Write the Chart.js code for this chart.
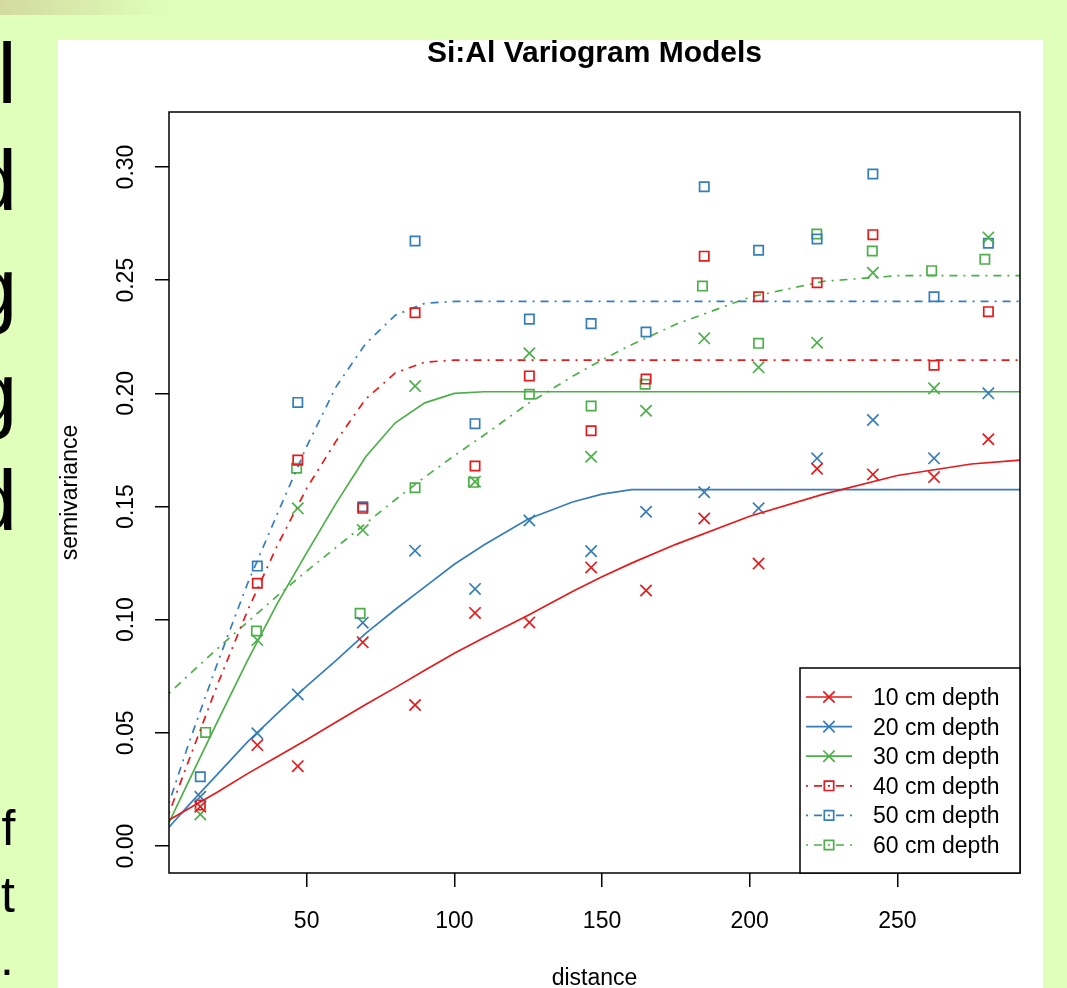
<!DOCTYPE html>
<html>
<head>
<meta charset="utf-8">
<script src="https://cdn.jsdelivr.net/npm/chart.js@4.4.0/dist/chart.umd.min.js"></script>
<style>
  body { margin: 0; width: 1067px; height: 988px; background: #dfffba; position: relative; overflow: hidden;
         font-family: "Liberation Sans", Arial, sans-serif; }
  #bar { position: absolute; left: 0; top: 0; width: 170px; height: 15px;
         background: linear-gradient(to right, #d3daa0, #dfffba); }
  .big { position: absolute; font-size: 86px; line-height: 1; color: #000; }
  .small { position: absolute; font-size: 50px; line-height: 1; color: #000; }
  #panel { position: absolute; left: 58px; top: 40px; width: 985px; height: 948px; background: #fff; }
</style>
</head>
<body>
<div id="bar"></div>
<div class="big" style="left:-2.6px; top:30px;">l</div>
<div class="big" style="left:-30.7px; top:137px;">d</div>
<div class="big" style="left:-30.6px; top:244px;">g</div>
<div class="big" style="left:-30.6px; top:349px;">g</div>
<div class="big" style="left:-30.7px; top:457px;">d</div>
<div class="small" style="left:1.5px; top:803px;">f</div>
<div class="small" style="left:1px; top:870px;">t</div>
<div class="small" style="left:0px; top:933px;">.</div>
<div id="panel"><canvas id="vgm" width="985" height="948"></canvas></div>

<script>
// tick marks / labels
const xTicks = [50, 100, 150, 200, 250];
const yTicks = [0, 0.05, 0.10, 0.15, 0.20, 0.25, 0.30];
const yTickLabels = ['0.00', '0.05', '0.10', '0.15', '0.20', '0.25', '0.30'];

const depthLabels = ['10 cm depth', '20 cm depth', '30 cm depth', '40 cm depth', '50 cm depth', '60 cm depth'];

// sample variogram (binned distances, semivariance)
const dist = [14, 33.3, 47, 69, 86.7, 107, 125.4, 146.3, 164.9, 184.6, 203, 222.8, 241.7, 262.4, 280.8];
const dist60 = [15.8, 33, 46.6, 68.1, 86.7, 106.5, 125.4, 146.3, 164.6, 184, 203, 222.7, 241.5, 261.6, 279.6];

const gamma10 = [0.0174, 0.0446, 0.0353, 0.0900, 0.0623, 0.1030, 0.0988, 0.1231, 0.1129, 0.1447, 0.1248, 0.1667, 0.1642, 0.1630, 0.1797];
const gamma20 = [0.0218, 0.0498, 0.0670, 0.0987, 0.1305, 0.1136, 0.1438, 0.1303, 0.1477, 0.1563, 0.1492, 0.1713, 0.1882, 0.1713, 0.2000];
const gamma30 = [0.0140, 0.0910, 0.1492, 0.1396, 0.2032, 0.1610, 0.2177, 0.1720, 0.1923, 0.2243, 0.2115, 0.2224, 0.2533, 0.2022, 0.2689];
const gamma40 = [0.0181, 0.1161, 0.1705, 0.1492, 0.2356, 0.1679, 0.2077, 0.1835, 0.2063, 0.2606, 0.2427, 0.2489, 0.2701, 0.2124, 0.2361];
const gamma50 = [0.0306, 0.1237, 0.1960, 0.1499, 0.2673, 0.1866, 0.2328, 0.2308, 0.2271, 0.2913, 0.2632, 0.2682, 0.2969, 0.2427, 0.2663];
const gamma60 = [0.0502, 0.0950, 0.1669, 0.1028, 0.1583, 0.1607, 0.1996, 0.1944, 0.2040, 0.2474, 0.2221, 0.2704, 0.2629, 0.2542, 0.2592];

// fitted model curves
const modelDist = [3.4, 10, 20, 30, 40, 50, 60, 70, 80, 90, 100, 110, 125, 140, 150, 160, 175, 200, 225, 250, 275, 291.5];
const model10 = [0.0115, 0.0165, 0.024, 0.032, 0.0395, 0.047, 0.0548, 0.0625, 0.070, 0.0777, 0.0852, 0.092, 0.102, 0.1125, 0.119, 0.125, 0.1333, 0.1457, 0.1555, 0.1637, 0.1688, 0.1705];
const model20 = [0.0083, 0.018, 0.032, 0.046, 0.0585, 0.0707, 0.082, 0.094, 0.1045, 0.1145, 0.1245, 0.133, 0.1445, 0.152, 0.1555, 0.1575, 0.1575, 0.1575, 0.1575, 0.1575, 0.1575, 0.1575];
const model30 = [0.0103, 0.0285, 0.0555, 0.082, 0.107, 0.1295, 0.1515, 0.172, 0.187, 0.1958, 0.2, 0.2007, 0.2007, 0.2007, 0.2007, 0.2007, 0.2007, 0.2007, 0.2007, 0.2007, 0.2007, 0.2007];
const model40 = [0.0145, 0.0375, 0.072, 0.104, 0.1326, 0.158, 0.179, 0.1975, 0.209, 0.2138, 0.2147, 0.2147, 0.2147, 0.2147, 0.2147, 0.2147, 0.2147, 0.2147, 0.2147, 0.2147, 0.2147, 0.2147];
const model50 = [0.019, 0.045, 0.0815, 0.116, 0.1465, 0.1765, 0.203, 0.222, 0.2345, 0.2398, 0.2406, 0.2406, 0.2406, 0.2406, 0.2406, 0.2406, 0.2406, 0.2406, 0.2406, 0.2406, 0.2406, 0.2406];
const model60 = [0.0675, 0.0755, 0.0875, 0.099, 0.1105, 0.1215, 0.132, 0.1425, 0.153, 0.163, 0.1725, 0.1815, 0.1955, 0.2075, 0.2148, 0.2215, 0.2305, 0.2425, 0.2495, 0.252, 0.252, 0.252];

const RED = '#E41A1C', BLUE = '#377EB8', GREEN = '#4DAF4A';
const DOTDASH = [2, 6, 8, 6];
const FONT = '"Liberation Sans", Arial, sans-serif';

const series = [
  { label: depthLabels[0], color: RED,   d: dist,   g: gamma10, m: model10, pch: 'crossRot', dash: [] },
  { label: depthLabels[1], color: BLUE,  d: dist,   g: gamma20, m: model20, pch: 'crossRot', dash: [] },
  { label: depthLabels[2], color: GREEN, d: dist,   g: gamma30, m: model30, pch: 'crossRot', dash: [] },
  { label: depthLabels[3], color: RED,   d: dist,   g: gamma40, m: model40, pch: 'rect', dash: DOTDASH },
  { label: depthLabels[4], color: BLUE,  d: dist,   g: gamma50, m: model50, pch: 'rect', dash: DOTDASH },
  { label: depthLabels[5], color: GREEN, d: dist60, g: gamma60, m: model60, pch: 'rect', dash: DOTDASH }
];

const datasets = [];
series.forEach(s => {
  datasets.push({
    label: s.label + ' model',
    data: modelDist.map((d, i) => ({ x: d, y: s.m[i] })),
    showLine: true,
    pointRadius: 0,
    borderColor: s.color,
    borderWidth: 1.7,
    borderDash: s.dash,
    fill: false,
    tension: 0
  });
  datasets.push({
    label: s.label,
    data: s.d.map((d, i) => ({ x: d, y: s.g[i] })),
    showLine: false,
    pointStyle: s.pch,
    pointRadius: s.pch === 'rect' ? 6.6 : 8,
    pointBorderWidth: 1.7,
    borderColor: s.color,
    backgroundColor: 'rgba(0,0,0,0)'
  });
});

function drawMarker(ctx, pch, x, y) {
  ctx.beginPath();
  if (pch === 'rect') {
    ctx.rect(x - 4.7, y - 4.7, 9.4, 9.4);
  } else {
    ctx.moveTo(x - 5.7, y - 5.7); ctx.lineTo(x + 5.7, y + 5.7);
    ctx.moveTo(x - 5.7, y + 5.7); ctx.lineTo(x + 5.7, y - 5.7);
  }
  ctx.stroke();
}

// R-style frame, labels and legend
const rStyle = {
  id: 'rStyle',
  afterDraw(chart) {
    const { ctx, chartArea: a, scales: { x, y } } = chart;
    const cx = (a.left + a.right) / 2;
    ctx.save();
    ctx.strokeStyle = '#000';
    ctx.lineWidth = 1.5;
    ctx.strokeRect(a.left, a.top, a.right - a.left, a.bottom - a.top);

    ctx.fillStyle = '#000';
    ctx.font = '23px ' + FONT;
    ctx.textAlign = 'center';
    ctx.textBaseline = 'alphabetic';
    xTicks.forEach(v => ctx.fillText(String(v), x.getPixelForValue(v), a.bottom + 55));
    yTicks.forEach((v, i) => {
      ctx.save();
      ctx.translate(a.left - 35.7, y.getPixelForValue(v));
      ctx.rotate(-Math.PI / 2);
      ctx.fillText(yTickLabels[i], 0, 0);
      ctx.restore();
    });

    ctx.fillText('distance', cx, 945);
    ctx.save();
    ctx.translate(19, (a.top + a.bottom) / 2);
    ctx.rotate(-Math.PI / 2);
    ctx.fillText('semivariance', 0, 0);
    ctx.restore();

    ctx.font = 'bold 30px ' + FONT;
    ctx.fillText('Si:Al Variogram Models', cx, 22);

    // legend box
    const lw = 220, lh = 205;
    const lx = a.right - lw, ly = a.bottom - lh;
    ctx.fillStyle = '#fff';
    ctx.fillRect(lx, ly, lw, lh);
    ctx.strokeRect(lx, ly, lw, lh);
    ctx.font = '23px ' + FONT;
    ctx.textAlign = 'left';
    series.forEach((s, i) => {
      const ry = ly + 29 + 29.6 * i;
      ctx.strokeStyle = s.color;
      ctx.lineWidth = 1.7;
      ctx.setLineDash(s.dash);
      ctx.beginPath();
      ctx.moveTo(lx + 6, ry);
      ctx.lineTo(lx + 52, ry);
      ctx.stroke();
      ctx.setLineDash([]);
      drawMarker(ctx, s.pch, lx + 29, ry);
      ctx.fillStyle = '#000';
      ctx.fillText(s.label, lx + 73, ry + 8);
    });
    ctx.restore();
  }
};

new Chart(document.getElementById('vgm').getContext('2d'), {
  type: 'scatter',
  data: { datasets: datasets },
  options: {
    responsive: false,
    animation: false,
    devicePixelRatio: 1,
    layout: { padding: { left: 0, top: 72, right: 23, bottom: 0 } },
    plugins: {
      legend: { display: false },
      title: { display: false },
      tooltip: { enabled: false }
    },
    scales: {
      x: {
        type: 'linear',
        min: 3.4,
        max: 291.5,
        afterBuildTicks: s => { s.ticks = xTicks.map(v => ({ value: v })); },
        afterFit: s => { s.height = 115; },
        ticks: { display: false },
        grid: { drawOnChartArea: false, drawTicks: true, tickLength: 14, color: '#000', lineWidth: 1.5 },
        border: { display: false }
      },
      y: {
        type: 'linear',
        min: -0.0119,
        max: 0.3243,
        afterBuildTicks: s => { s.ticks = yTicks.map(v => ({ value: v })); },
        afterFit: s => { s.width = 111; },
        ticks: { display: false },
        grid: { drawOnChartArea: false, drawTicks: true, tickLength: 14, color: '#000', lineWidth: 1.5 },
        border: { display: false }
      }
    }
  },
  plugins: [rStyle]
});
</script>
</body>
</html>
